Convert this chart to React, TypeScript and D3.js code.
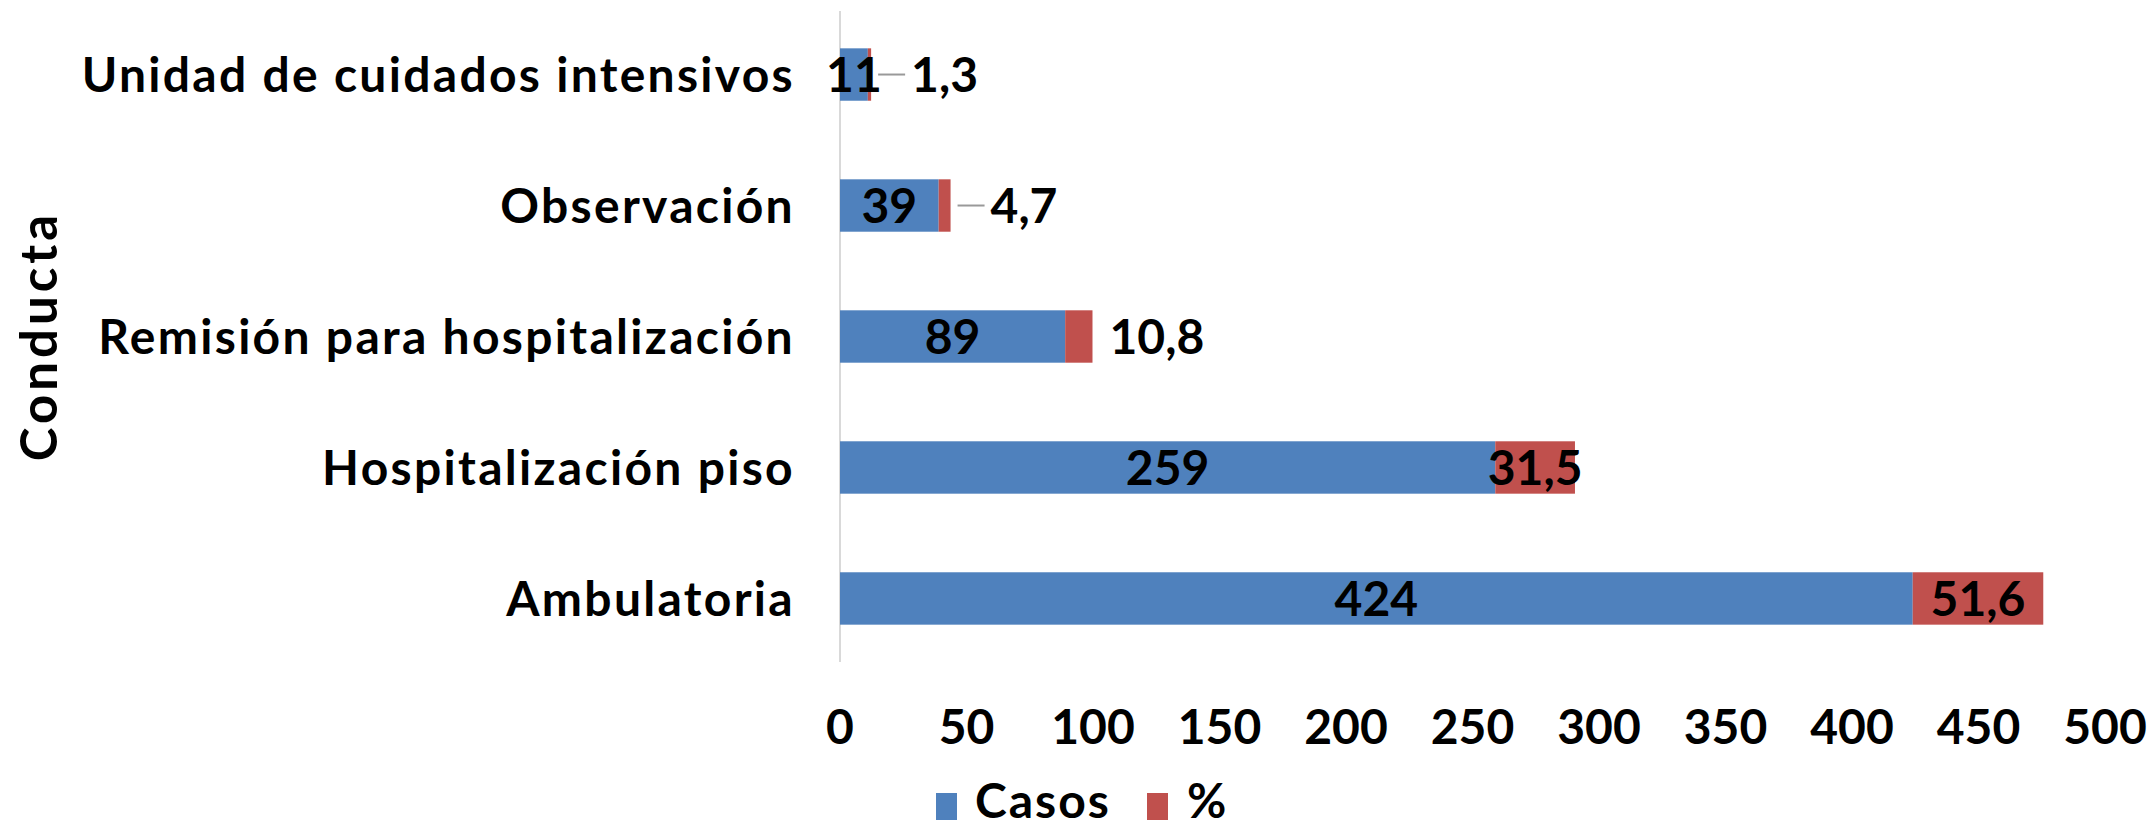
import * as d3 from 'd3';
import React from 'react';

const categories = ['Unidad de cuidados intensivos', 'Observación', 'Remisión para hospitalización', 'Hospitalización piso', 'Ambulatoria'];
const casos = [11, 39, 89, 259, 424];
const pct = [1.3, 4.7, 10.8, 31.5, 51.6];
const ticks = [0, 50, 100, 150, 200, 250, 300, 350, 400, 450, 500];
// categories whose % label Excel pulled out with a leader line
const withLeader = ['Unidad de cuidados intensivos', 'Observación'];

const W = 2152, H = 827;
const BLUE = '#4F81BD', RED = '#C0504D';
const FONT = 'Lato, "DejaVu Sans", sans-serif';

export default function App() {
  const x = d3.scaleLinear().domain([0, 500]).range([840, 2105]);
  const y = d3.scaleBand().domain(categories).range([11, 662]).paddingInner(0.6).paddingOuter(0.285);
  const fmt = (v: number) => String(v).replace('.', ',');

  return (
    <svg width={W} height={H} style={{ position: 'absolute', left: 0, top: 0, background: '#fff' }}
      fontFamily={FONT} fontWeight="bold" fontSize={48}>
      <line x1={x(0)} x2={x(0)} y1={11} y2={662} stroke="#D9D9D9" strokeWidth={2} />

      {categories.map((c, i) => {
        const y0 = y(c)!, bw = y.bandwidth(), cy = y0 + bw / 2;
        const xb = x(casos[i]), xr = x(casos[i] + pct[i]);
        const inside = xr - xb > 50;
        const leader = withLeader.includes(c);
        const lx = leader ? xr + 40 : xr + 17;
        return (
          <g key={c}>
            <text x={795} y={cy} dy="0.36em" textAnchor="end" letterSpacing={2.3} fill="#000">{c}</text>
            <rect x={x(0)} y={y0} width={xb - x(0)} height={bw} fill={BLUE} />
            <rect x={xb} y={y0} width={xr - xb} height={bw} fill={RED} />
            <text x={(x(0) + xb) / 2} y={cy} dy="0.36em" textAnchor="middle" fill="#000">{casos[i]}</text>
            {leader && <line x1={xr + 7} x2={xr + 34} y1={cy} y2={cy} stroke="#999" strokeWidth={2} />}
            <text x={inside ? (xb + xr) / 2 : lx} y={cy} dy="0.36em" textAnchor={inside ? 'middle' : 'start'} fill="#000">{fmt(pct[i])}</text>
          </g>
        );
      })}

      {ticks.map(t => (
        <text key={t} x={x(t)} y={744} textAnchor="middle" fill="#000">{t}</text>
      ))}

      <text transform="translate(57,336) rotate(-90)" textAnchor="middle" fontSize={51} letterSpacing={4} fill="#000">Conducta</text>

      <rect x={936} y={793} width={21} height={27} fill={BLUE} />
      <text x={975} y={818} letterSpacing={2} fill="#000">Casos</text>
      <rect x={1147} y={793} width={21} height={27} fill={RED} />
      <text x={1187} y={818} fill="#000">%</text>
    </svg>
  );
}
